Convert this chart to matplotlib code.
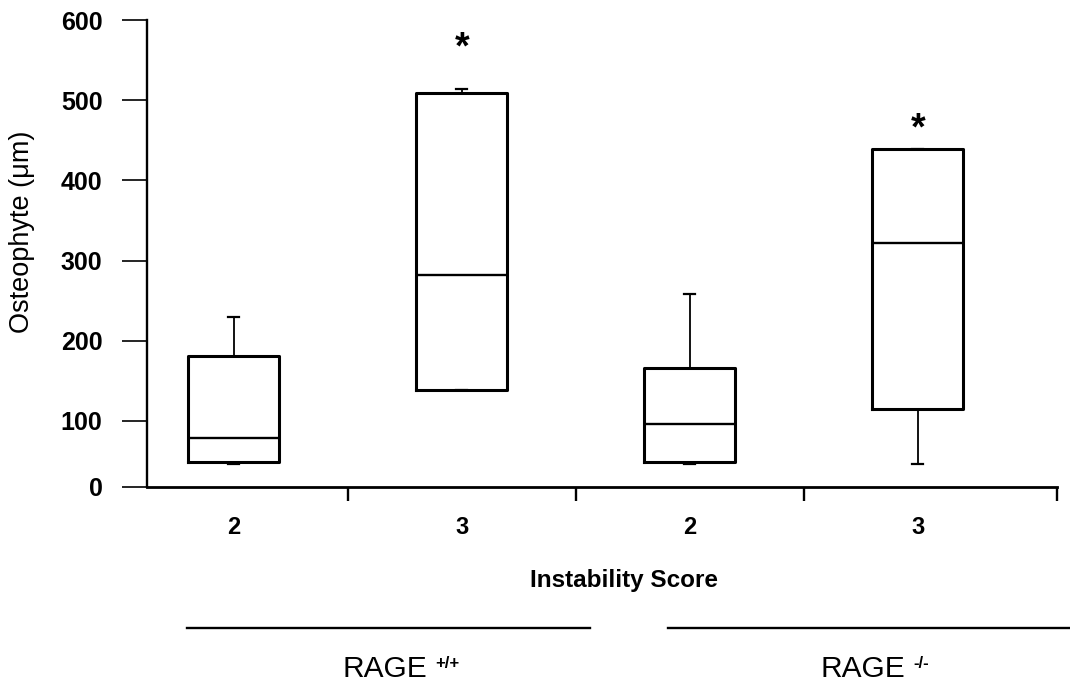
import matplotlib
matplotlib.use("Agg")
import matplotlib.pyplot as plt
from matplotlib.lines import Line2D

plt.rcParams["font.family"] = ["Liberation Sans", "DejaVu Sans"]

# Box statistics (Osteophyte size, um)
groups = ["2", "3", "2", "3"]
whisker_low = [46, 139, 46, 46]
q1 = [49, 139, 49, 115]
medians = [78, 282, 96, 322]
q3 = [181, 509, 166, 439]
whisker_high = [230, 514, 258, 439]

# significance markers (group index, y value)
sig_idx = [1, 3]
sig_y = [564, 464]

y_ticks = [17.5, 100, 200, 300, 400, 500, 600]
y_ticklabels = ["0", "100", "200", "300", "400", "500", "600"]

genotypes = ["RAGE", "RAGE"]
genotype_sup = ["+/+", "-/-"]

fig = plt.figure(figsize=(10.7, 6.98), dpi=100)
ax = fig.add_axes([147 / 1070, 1 - 487 / 698, 910 / 1070, 467 / 698])

stats = []
for i, g in enumerate(groups):
    stats.append({
        "label": g,
        "whislo": whisker_low[i],
        "q1": q1[i],
        "med": medians[i],
        "q3": q3[i],
        "whishi": whisker_high[i],
        "fliers": [],
    })

positions = list(range(len(groups)))
ax.bxp(stats, positions=positions, widths=0.4, capwidths=0.048,
       showfliers=False,
       boxprops=dict(color="black", linewidth=2.2),
       medianprops=dict(color="black", linewidth=1.7),
       whiskerprops=dict(color="black", linewidth=1.3),
       capprops=dict(color="black", linewidth=1.6))

for i, y in zip(sig_idx, sig_y):
    ax.text(positions[i], y, "*", ha="center", va="center",
            fontsize=27, fontweight="bold")

ax.set_xlim(-0.38, 3.61)
ax.set_ylim(17.5, 600)

ax.spines["top"].set_visible(False)
ax.spines["right"].set_visible(False)
ax.spines["left"].set_linewidth(1.7)
ax.spines["bottom"].set_linewidth(2.0)

ax.set_yticks(y_ticks)
ax.set_yticklabels(y_ticklabels)
ax.tick_params(axis="y", direction="out", length=18, width=1.2, pad=14,
               labelsize=18)
for lab in ax.get_yticklabels():
    lab.set_fontweight("bold")

ax.set_xticks(positions)
ax.set_xticklabels(groups)
ax.tick_params(axis="x", which="major", length=0, pad=21, labelsize=17)
for lab in ax.get_xticklabels():
    lab.set_fontweight("bold")
ax.set_xticks([0.5, 1.5, 2.5, 3.61], minor=True)
ax.tick_params(axis="x", which="minor", direction="out", length=10, width=1.7)

fig.text(22 / 1070, 1 - 232 / 698, "Osteophyte (\u03bcm)", rotation=90,
         ha="center", va="center", fontsize=19.5)
fig.text(624 / 1070, 1 - 580 / 698, "Instability Score", ha="center",
         va="center", fontsize=17.5, fontweight="bold")

# genotype brackets under the axis
for x0, x1 in [(187, 590), (668, 1070)]:
    fig.add_artist(Line2D([x0 / 1070, x1 / 1070], [1 - 628 / 698, 1 - 628 / 698],
                          color="black", linewidth=1.7))

for cx, name, sup in zip([427, 905], genotypes, genotype_sup):
    fig.text(cx / 1070, 1 - 677 / 698, name, ha="right", va="baseline",
             fontsize=21.5)
    fig.text((cx + 8) / 1070, 1 - 668 / 698, sup, ha="left", va="baseline",
             fontsize=12, fontweight="bold")

fig.savefig("out.png", dpi=100)
